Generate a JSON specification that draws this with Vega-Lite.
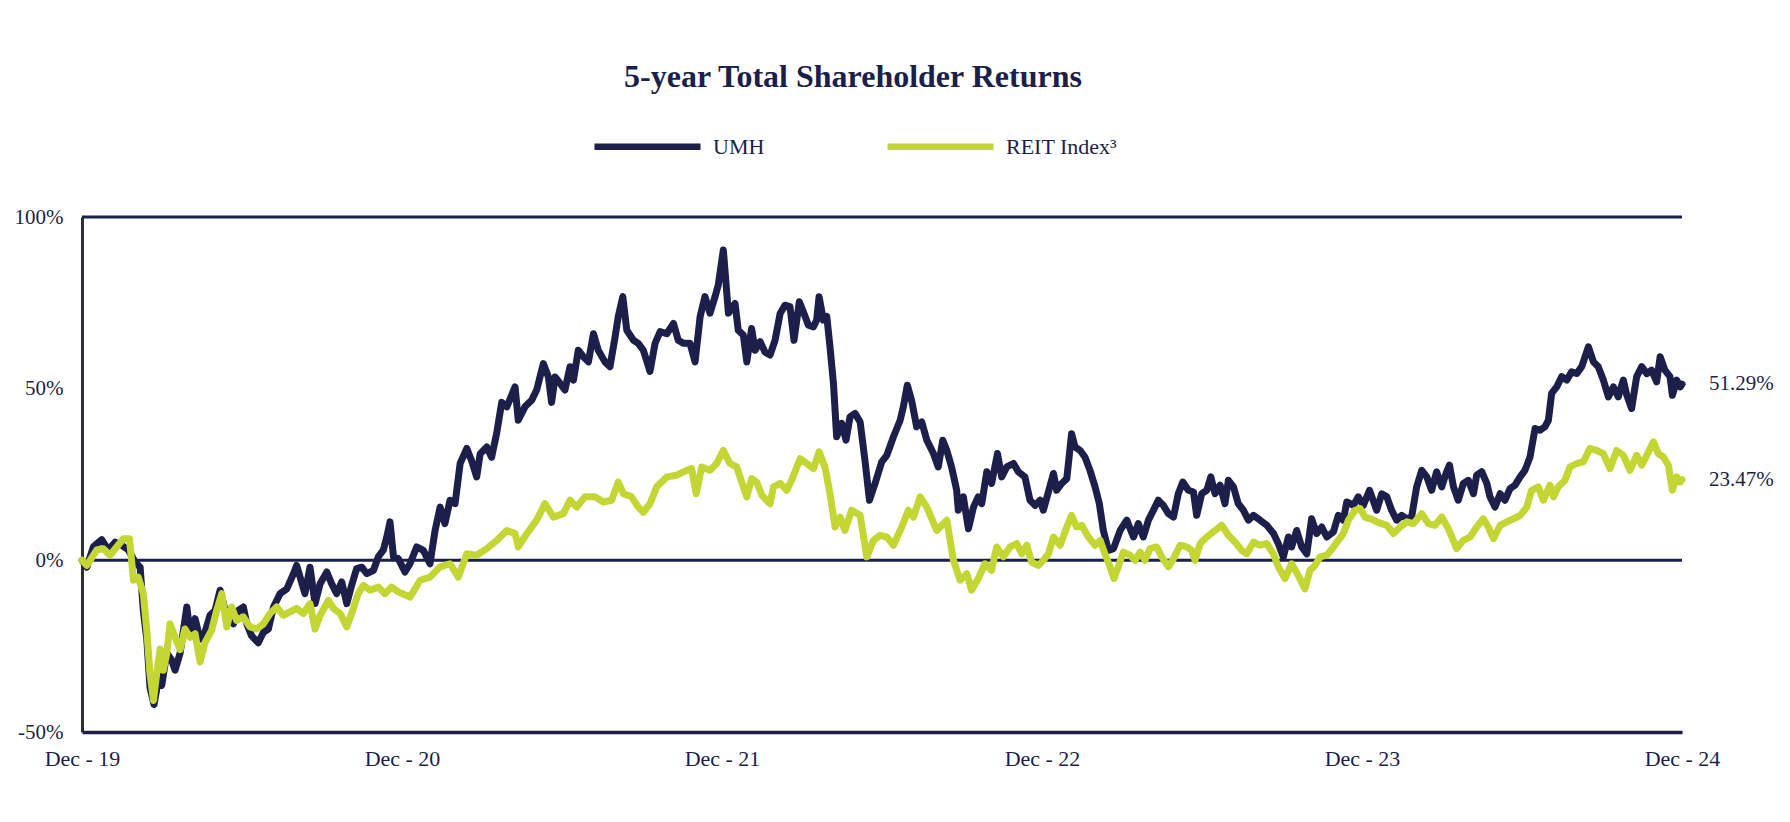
{
  "$schema": "https://vega.github.io/schema/vega-lite/v6.json",
  "width": 1600,
  "height": 515,
  "autosize": "none",
  "padding": {"left": 82, "top": 217, "right": 108, "bottom": 90},
  "background": "white",
  "title": {
    "text": "5-year Total Shareholder Returns",
    "font": "Liberation Serif",
    "fontSize": 32,
    "fontWeight": "bold",
    "color": "#1c1f4a",
    "anchor": "middle",
    "dx": -29,
    "offset": -4
  },
  "datasets": {
    "umh": [
      {"m":0,"v":0},{"m":0.18,"v":-2},{"m":0.43,"v":4},{"m":0.74,"v":6},{"m":0.99,"v":3},{"m":1.24,"v":5.3},{"m":1.49,"v":4.4},{"m":1.74,"v":3},{"m":1.99,"v":-0.5},{"m":2.18,"v":-2},
      {"m":2.3,"v":-14.6},{"m":2.43,"v":-23},{"m":2.55,"v":-37},{"m":2.7,"v":-42},{"m":2.86,"v":-35},{"m":2.99,"v":-36.4},{"m":3.18,"v":-27},{"m":3.36,"v":-29},{"m":3.49,"v":-32},{"m":3.68,"v":-27},
      {"m":3.93,"v":-13.6},{"m":4.05,"v":-21},{"m":4.24,"v":-17},{"m":4.43,"v":-23},{"m":4.61,"v":-21},{"m":4.8,"v":-16},{"m":4.99,"v":-14.6},{"m":5.18,"v":-8.7},{"m":5.43,"v":-16.5},{"m":5.68,"v":-18.5},
      {"m":5.86,"v":-14.6},{"m":6.05,"v":-13.6},{"m":6.18,"v":-18.5},{"m":6.36,"v":-22},{"m":6.61,"v":-24},{"m":6.8,"v":-21},{"m":6.99,"v":-20},{"m":7.18,"v":-13.6},{"m":7.43,"v":-9.7},{"m":7.68,"v":-8.3},
      {"m":7.93,"v":-3.9},{"m":8.05,"v":-1.5},{"m":8.18,"v":-4.9},{"m":8.36,"v":-9.7},{"m":8.55,"v":-2},{"m":8.74,"v":-12.6},{"m":8.93,"v":-6.8},{"m":9.18,"v":-3.4},{"m":9.36,"v":-6.8},{"m":9.55,"v":-9.7},
      {"m":9.74,"v":-6.3},{"m":9.93,"v":-12.6},{"m":10.11,"v":-7.3},{"m":10.3,"v":-2.4},{"m":10.49,"v":-2},{"m":10.68,"v":-3.9},{"m":10.93,"v":-2.9},{"m":11.11,"v":1},{"m":11.3,"v":3},{"m":11.43,"v":6.8},
      {"m":11.55,"v":11.2},{"m":11.68,"v":1},{"m":11.86,"v":0.5},{"m":12.11,"v":-3.4},{"m":12.3,"v":-1},{"m":12.55,"v":3.9},{"m":12.8,"v":2.9},{"m":13.05,"v":-1},{"m":13.24,"v":8.7},{"m":13.43,"v":15.5},
      {"m":13.61,"v":10.7},{"m":13.8,"v":17.5},{"m":13.99,"v":16.5},{"m":14.18,"v":28.2},{"m":14.43,"v":32.6},{"m":14.61,"v":29},{"m":14.8,"v":24.3},{"m":14.93,"v":31},{"m":15.18,"v":33},{"m":15.36,"v":30},
      {"m":15.55,"v":37},{"m":15.74,"v":46},{"m":15.93,"v":44.7},{"m":16.24,"v":50.5},{"m":16.36,"v":40.8},{"m":16.61,"v":44.7},{"m":16.86,"v":46.6},{"m":17.05,"v":49.6},{"m":17.3,"v":57.3},{"m":17.49,"v":53.4},
      {"m":17.61,"v":46},{"m":17.74,"v":53.4},{"m":17.93,"v":51.5},{"m":18.11,"v":49.6},{"m":18.3,"v":56.4},{"m":18.43,"v":52.5},{"m":18.61,"v":61.2},{"m":18.8,"v":59.3},{"m":18.99,"v":57.8},{"m":19.18,"v":66},
      {"m":19.36,"v":61.2},{"m":19.61,"v":57.8},{"m":19.8,"v":56.4},{"m":19.99,"v":65},{"m":20.11,"v":71},{"m":20.28,"v":76.8},{"m":20.43,"v":67},{"m":20.68,"v":64.1},{"m":20.86,"v":63.2},{"m":21.05,"v":61.2},
      {"m":21.3,"v":55},{"m":21.49,"v":63.2},{"m":21.68,"v":66.6},{"m":21.93,"v":66},{"m":22.18,"v":69},{"m":22.36,"v":64.1},{"m":22.55,"v":63.2},{"m":22.8,"v":63.2},{"m":22.99,"v":57.8},{"m":23.18,"v":71},
      {"m":23.36,"v":76.8},{"m":23.55,"v":72},{"m":23.74,"v":76.8},{"m":23.86,"v":80.2},{"m":24.05,"v":90.4},{"m":24.24,"v":72},{"m":24.49,"v":74.8},{"m":24.61,"v":67},{"m":24.8,"v":65.6},{"m":24.93,"v":57.8},
      {"m":25.11,"v":67.5},{"m":25.24,"v":61.2},{"m":25.43,"v":63.7},{"m":25.61,"v":60.7},{"m":25.8,"v":59.8},{"m":25.99,"v":64.1},{"m":26.18,"v":71.9},{"m":26.36,"v":74.3},{"m":26.55,"v":73.9},{"m":26.7,"v":64.1},
      {"m":26.9,"v":75.3},{"m":27.05,"v":72.4},{"m":27.24,"v":68.5},{"m":27.43,"v":68},{"m":27.55,"v":70},{"m":27.64,"v":76.8},{"m":27.8,"v":70},{"m":27.93,"v":71},{"m":28.05,"v":62.2},{"m":28.18,"v":51.5},
      {"m":28.3,"v":36},{"m":28.49,"v":39.9},{"m":28.65,"v":35},{"m":28.8,"v":41.8},{"m":28.99,"v":42.8},{"m":29.18,"v":40.3},{"m":29.36,"v":29.2},{"m":29.53,"v":17.5},{"m":29.74,"v":22.4},{"m":29.99,"v":28.7},
      {"m":30.18,"v":30.6},{"m":30.43,"v":36},{"m":30.68,"v":40.8},{"m":30.8,"v":44.7},{"m":30.95,"v":51},{"m":31.11,"v":46.6},{"m":31.3,"v":38.9},{"m":31.49,"v":40.3},{"m":31.68,"v":35},{"m":31.93,"v":31.1},
      {"m":32.11,"v":27.2},{"m":32.28,"v":35},{"m":32.43,"v":32},{"m":32.61,"v":27.2},{"m":32.8,"v":20.4},{"m":32.86,"v":14.6},{"m":33.05,"v":18.5},{"m":33.24,"v":9.2},{"m":33.43,"v":15.5},{"m":33.61,"v":18.5},
      {"m":33.74,"v":16.5},{"m":33.93,"v":25.8},{"m":34.11,"v":22.4},{"m":34.33,"v":31.1},{"m":34.49,"v":24.3},{"m":34.68,"v":27.2},{"m":34.93,"v":28.2},{"m":35.11,"v":25.8},{"m":35.36,"v":24.3},{"m":35.55,"v":17.5},
      {"m":35.74,"v":16},{"m":35.93,"v":17.5},{"m":36.05,"v":14.6},{"m":36.24,"v":19.9},{"m":36.43,"v":25.3},{"m":36.55,"v":20.4},{"m":36.74,"v":22.4},{"m":36.93,"v":23.8},{"m":37.11,"v":36.9},{"m":37.24,"v":33},
      {"m":37.43,"v":32},{"m":37.61,"v":30.1},{"m":37.8,"v":26.2},{"m":37.99,"v":21.4},{"m":38.15,"v":16.5},{"m":38.3,"v":8.7},{"m":38.49,"v":2.9},{"m":38.68,"v":3.4},{"m":38.93,"v":8.7},{"m":39.18,"v":11.7},
      {"m":39.43,"v":6.8},{"m":39.61,"v":10.7},{"m":39.8,"v":6.8},{"m":39.99,"v":11.7},{"m":40.18,"v":14.6},{"m":40.36,"v":17.5},{"m":40.55,"v":16},{"m":40.74,"v":13.6},{"m":40.93,"v":12.6},{"m":41.11,"v":19.4},
      {"m":41.28,"v":22.8},{"m":41.49,"v":20.4},{"m":41.68,"v":19.9},{"m":41.8,"v":13.1},{"m":41.99,"v":19.4},{"m":42.18,"v":20.4},{"m":42.33,"v":24.3},{"m":42.49,"v":19.4},{"m":42.68,"v":21.9},{"m":42.86,"v":16.5},
      {"m":42.99,"v":23.3},{"m":43.18,"v":21.4},{"m":43.36,"v":16.5},{"m":43.55,"v":14.6},{"m":43.74,"v":11.7},{"m":43.93,"v":13.1},{"m":44.18,"v":11.7},{"m":44.43,"v":10.2},{"m":44.68,"v":7.8},{"m":44.86,"v":4.9},
      {"m":45.05,"v":1},{"m":45.24,"v":6.8},{"m":45.36,"v":3.9},{"m":45.55,"v":8.7},{"m":45.74,"v":3.9},{"m":45.93,"v":1.9},{"m":46.11,"v":12.1},{"m":46.3,"v":7.8},{"m":46.49,"v":9.7},{"m":46.68,"v":6.8},
      {"m":46.93,"v":8.3},{"m":47.11,"v":13.1},{"m":47.3,"v":11.7},{"m":47.43,"v":17},{"m":47.68,"v":16},{"m":47.86,"v":18.5},{"m":48.05,"v":16},{"m":48.28,"v":20.4},{"m":48.55,"v":14.6},{"m":48.74,"v":19.4},
      {"m":48.93,"v":18.5},{"m":49.11,"v":14.6},{"m":49.3,"v":11.7},{"m":49.49,"v":13.1},{"m":49.68,"v":12.1},{"m":49.86,"v":12.6},{"m":50.05,"v":21.4},{"m":50.24,"v":26.2},{"m":50.43,"v":24.3},{"m":50.61,"v":20.4},
      {"m":50.8,"v":25.8},{"m":50.99,"v":21.4},{"m":51.15,"v":25.3},{"m":51.28,"v":27.7},{"m":51.43,"v":21.4},{"m":51.61,"v":17.5},{"m":51.8,"v":22.4},{"m":51.99,"v":23.3},{"m":52.18,"v":19.4},{"m":52.3,"v":24.8},
      {"m":52.49,"v":25.8},{"m":52.68,"v":22.4},{"m":52.8,"v":18.5},{"m":52.99,"v":15.5},{"m":53.18,"v":19.4},{"m":53.36,"v":17.5},{"m":53.55,"v":20.9},{"m":53.74,"v":21.9},{"m":53.93,"v":24.3},{"m":54.11,"v":26.2},
      {"m":54.3,"v":30.1},{"m":54.49,"v":38.4},{"m":54.68,"v":37.9},{"m":54.86,"v":38.9},{"m":54.99,"v":40.8},{"m":55.11,"v":48.6},{"m":55.3,"v":50.5},{"m":55.49,"v":53.5},{"m":55.68,"v":52.5},{"m":55.86,"v":54.9},
      {"m":56.05,"v":54.4},{"m":56.24,"v":56.4},{"m":56.49,"v":62.2},{"m":56.68,"v":57.8},{"m":56.86,"v":56.4},{"m":57.05,"v":52.5},{"m":57.24,"v":47.6},{"m":57.43,"v":50.5},{"m":57.61,"v":47.6},{"m":57.8,"v":52.5},
      {"m":57.93,"v":48.1},{"m":58.11,"v":44.2},{"m":58.3,"v":53.5},{"m":58.49,"v":56.4},{"m":58.68,"v":54.4},{"m":58.86,"v":55.4},{"m":59.05,"v":52},{"m":59.18,"v":59.3},{"m":59.36,"v":55.4},{"m":59.55,"v":53.5},
      {"m":59.64,"v":48.1},{"m":59.8,"v":52.5},{"m":59.93,"v":50.5},{"m":60,"v":51.29}
    ],
    "reit": [
      {"m":0,"v":0},{"m":0.18,"v":-1.5},{"m":0.55,"v":3},{"m":0.8,"v":3.4},{"m":1.05,"v":1.5},{"m":1.3,"v":3.9},{"m":1.55,"v":6.3},{"m":1.78,"v":6.3},{"m":1.93,"v":-5.8},{"m":2.11,"v":-4.9},
      {"m":2.3,"v":-9.7},{"m":2.43,"v":-20.4},{"m":2.55,"v":-33},{"m":2.68,"v":-40.8},{"m":2.8,"v":-33},{"m":2.93,"v":-25.8},{"m":3.05,"v":-32},{"m":3.18,"v":-27},{"m":3.3,"v":-18.5},{"m":3.49,"v":-22.4},
      {"m":3.68,"v":-26},{"m":3.86,"v":-20},{"m":4.05,"v":-22.4},{"m":4.24,"v":-21.4},{"m":4.43,"v":-29.6},{"m":4.61,"v":-24},{"m":4.86,"v":-20.4},{"m":5.05,"v":-14.6},{"m":5.24,"v":-9.7},{"m":5.43,"v":-19.4},
      {"m":5.61,"v":-13.6},{"m":5.8,"v":-17.5},{"m":6.05,"v":-16.5},{"m":6.3,"v":-19.4},{"m":6.55,"v":-20},{"m":6.8,"v":-18.5},{"m":7.05,"v":-15.5},{"m":7.3,"v":-13.6},{"m":7.55,"v":-16},{"m":7.8,"v":-15},
      {"m":8.05,"v":-14},{"m":8.3,"v":-15.5},{"m":8.55,"v":-12.6},{"m":8.74,"v":-20},{"m":8.93,"v":-16},{"m":9.24,"v":-11.7},{"m":9.43,"v":-14},{"m":9.68,"v":-15.5},{"m":9.93,"v":-19.4},{"m":10.11,"v":-15.5},
      {"m":10.36,"v":-9.7},{"m":10.55,"v":-7.3},{"m":10.8,"v":-8.7},{"m":11.11,"v":-7.8},{"m":11.36,"v":-9.7},{"m":11.61,"v":-7.8},{"m":11.86,"v":-9.2},{"m":12.3,"v":-10.7},{"m":12.68,"v":-5.8},{"m":13.05,"v":-4.9},
      {"m":13.43,"v":-1.9},{"m":13.8,"v":-1},{"m":14.11,"v":-4.9},{"m":14.43,"v":1.9},{"m":14.8,"v":1.5},{"m":15.18,"v":3.4},{"m":15.55,"v":5.8},{"m":15.93,"v":8.7},{"m":16.24,"v":7.8},{"m":16.36,"v":3.9},
      {"m":16.68,"v":7.8},{"m":17.05,"v":11.7},{"m":17.36,"v":16.5},{"m":17.68,"v":12.6},{"m":18.05,"v":13.6},{"m":18.3,"v":17.5},{"m":18.55,"v":15.5},{"m":18.86,"v":18.5},{"m":19.24,"v":18.5},{"m":19.55,"v":17},
      {"m":19.86,"v":17.5},{"m":20.11,"v":22.8},{"m":20.3,"v":19.4},{"m":20.61,"v":18.5},{"m":20.86,"v":15.5},{"m":21.05,"v":14},{"m":21.3,"v":16.5},{"m":21.55,"v":21.4},{"m":21.93,"v":24.3},{"m":22.3,"v":24.8},
      {"m":22.68,"v":26.2},{"m":22.86,"v":26.7},{"m":23.03,"v":19.4},{"m":23.24,"v":27.2},{"m":23.55,"v":26.2},{"m":23.8,"v":28.2},{"m":24.05,"v":32},{"m":24.3,"v":28.2},{"m":24.55,"v":27.2},{"m":24.74,"v":22.8},
      {"m":24.93,"v":18.5},{"m":25.11,"v":23.8},{"m":25.3,"v":22.8},{"m":25.49,"v":19},{"m":25.8,"v":16.5},{"m":25.93,"v":21.4},{"m":26.18,"v":22.4},{"m":26.43,"v":20.4},{"m":26.61,"v":23.3},{"m":26.93,"v":29.6},
      {"m":27.18,"v":28.2},{"m":27.43,"v":26.7},{"m":27.64,"v":31.6},{"m":27.86,"v":27.2},{"m":28.05,"v":19.4},{"m":28.24,"v":9.7},{"m":28.43,"v":12.6},{"m":28.61,"v":8.7},{"m":28.86,"v":14.6},{"m":29.18,"v":13.1},
      {"m":29.43,"v":1},{"m":29.68,"v":5.8},{"m":29.93,"v":7.3},{"m":30.18,"v":6.8},{"m":30.43,"v":4.4},{"m":30.74,"v":9.7},{"m":30.99,"v":14.6},{"m":31.18,"v":12.6},{"m":31.43,"v":18.5},{"m":31.68,"v":15.5},
      {"m":32.05,"v":8.7},{"m":32.43,"v":11.7},{"m":32.68,"v":0},{"m":32.93,"v":-5.8},{"m":33.18,"v":-3.9},{"m":33.36,"v":-8.7},{"m":33.61,"v":-5.3},{"m":33.86,"v":-1},{"m":34.11,"v":-2.9},{"m":34.3,"v":3.9},
      {"m":34.55,"v":1},{"m":34.8,"v":3.9},{"m":35.05,"v":4.9},{"m":35.24,"v":1.9},{"m":35.43,"v":4.4},{"m":35.61,"v":-0.5},{"m":35.86,"v":-1.5},{"m":36.05,"v":0},{"m":36.24,"v":1.9},{"m":36.43,"v":6.8},
      {"m":36.68,"v":4.4},{"m":36.93,"v":9.7},{"m":37.11,"v":13.1},{"m":37.3,"v":9.7},{"m":37.49,"v":10.2},{"m":37.74,"v":6.8},{"m":37.99,"v":4.4},{"m":38.18,"v":5.8},{"m":38.36,"v":1.9},{"m":38.55,"v":-1.9},
      {"m":38.7,"v":-5.3},{"m":38.86,"v":-1.9},{"m":39.05,"v":2.4},{"m":39.3,"v":1.5},{"m":39.49,"v":0},{"m":39.68,"v":2.4},{"m":39.86,"v":0},{"m":40.05,"v":3.4},{"m":40.3,"v":3.9},{"m":40.49,"v":1},
      {"m":40.74,"v":-1.9},{"m":40.93,"v":0.5},{"m":41.18,"v":4.4},{"m":41.43,"v":3.9},{"m":41.61,"v":2.9},{"m":41.74,"v":0},{"m":41.93,"v":4.9},{"m":42.18,"v":6.8},{"m":42.43,"v":8.3},{"m":42.74,"v":10.2},
      {"m":42.99,"v":7.3},{"m":43.24,"v":5.3},{"m":43.49,"v":2.9},{"m":43.68,"v":1.9},{"m":43.93,"v":5.3},{"m":44.18,"v":4.4},{"m":44.43,"v":4.9},{"m":44.68,"v":1.9},{"m":44.86,"v":-1.9},{"m":45.11,"v":-5.3},
      {"m":45.36,"v":-1},{"m":45.61,"v":-4.4},{"m":45.86,"v":-8.3},{"m":46.05,"v":-2.9},{"m":46.24,"v":-1.5},{"m":46.43,"v":1},{"m":46.68,"v":1.5},{"m":46.93,"v":3.9},{"m":47.11,"v":5.8},{"m":47.3,"v":7.8},
      {"m":47.49,"v":11.7},{"m":47.74,"v":14.6},{"m":47.93,"v":15.1},{"m":48.11,"v":12.6},{"m":48.36,"v":12},{"m":48.55,"v":11.2},{"m":48.93,"v":10.2},{"m":49.18,"v":7.8},{"m":49.43,"v":9.7},{"m":49.68,"v":11.2},
      {"m":49.93,"v":10.7},{"m":50.24,"v":13.6},{"m":50.49,"v":10.7},{"m":50.74,"v":10.2},{"m":50.99,"v":12.6},{"m":51.24,"v":9.2},{"m":51.55,"v":3.4},{"m":51.8,"v":5.8},{"m":52.05,"v":6.8},{"m":52.3,"v":9.7},
      {"m":52.55,"v":12.1},{"m":52.74,"v":9.7},{"m":52.93,"v":6.3},{"m":53.18,"v":10.2},{"m":53.43,"v":11.2},{"m":53.68,"v":12.1},{"m":53.93,"v":13.1},{"m":54.18,"v":15.5},{"m":54.36,"v":20.4},{"m":54.61,"v":21.4},
      {"m":54.8,"v":17.5},{"m":55.05,"v":21.9},{"m":55.18,"v":18.5},{"m":55.36,"v":21.4},{"m":55.61,"v":23.3},{"m":55.8,"v":27.2},{"m":56.05,"v":28.2},{"m":56.3,"v":28.7},{"m":56.55,"v":32.6},{"m":56.8,"v":32},
      {"m":57.05,"v":31.1},{"m":57.3,"v":26.7},{"m":57.55,"v":32},{"m":57.8,"v":30.6},{"m":58.05,"v":26.2},{"m":58.3,"v":30.6},{"m":58.49,"v":27.7},{"m":58.68,"v":30.6},{"m":58.93,"v":34.5},{"m":59.11,"v":31.1},
      {"m":59.3,"v":30.1},{"m":59.49,"v":27.7},{"m":59.64,"v":20.4},{"m":59.8,"v":24.3},{"m":59.93,"v":22.8},{"m":60,"v":23.47}
    ],
    "ends": [
      {"s":"UMH","m":60,"v":51.29,"label":"51.29%"},
      {"s":"REIT Index³","m":60,"v":23.47,"label":"23.47%"}
    ],
    "refs": [{"v":100},{"v":0}]
  },
  "encoding": {
    "x": {
      "field": "m",
      "type": "quantitative",
      "scale": {"domain": [0, 60], "nice": false, "zero": false},
      "axis": {
        "title": null,
        "values": [0, 12, 24, 36, 48, 60],
        "labelExpr": "'Dec - ' + (19 + datum.value / 12)",
        "grid": false,
        "ticks": false,
        "tickSize": 0,
        "labelPadding": 16,
        "labelFlush": false,
        "labelOverlap": false,
        "labelFont": "Liberation Serif",
        "labelFontSize": 22,
        "labelColor": "#1c1f4a",
        "domainColor": "#1c1f4a",
        "domainWidth": 3.5
      }
    },
    "y": {
      "field": "v",
      "type": "quantitative",
      "scale": {"domain": [-50, 100], "nice": false, "zero": false},
      "axis": {
        "title": null,
        "values": [-50, 0, 50, 100],
        "labelExpr": "datum.value + '%'",
        "grid": false,
        "ticks": false,
        "tickSize": 0,
        "labelPadding": 19,
        "labelFont": "Liberation Serif",
        "labelFontSize": 21,
        "labelColor": "#1c1f4a",
        "domainColor": "#2e2e36",
        "domainWidth": 3
      }
    }
  },
  "layer": [
    {
      "data": {"name": "refs"},
      "mark": {"type": "rule", "color": "#1c1f4a", "strokeWidth": 3},
      "encoding": {"x": null}
    },
    {
      "data": {"name": "umh"},
      "mark": {"type": "line", "strokeWidth": 7, "strokeJoin": "round", "strokeCap": "round"},
      "encoding": {
        "color": {
          "datum": "UMH",
          "type": "nominal",
          "scale": {"domain": ["UMH", "REIT Index³"], "range": ["#1c1f4a", "#c4d633"]},
          "legend": {
            "title": null,
            "orient": "none",
            "direction": "horizontal",
            "legendX": 509,
            "legendY": -127,
            "symbolType": "stroke",
            "symbolSize": 11236,
            "symbolStrokeWidth": 6.5,
            "labelOffset": 9,
            "columnPadding": 109,
            "labelFont": "Liberation Serif",
            "labelFontSize": 22,
            "labelColor": "#1c1f4a"
          }
        }
      }
    },
    {
      "data": {"name": "reit"},
      "mark": {"type": "line", "strokeWidth": 7, "strokeJoin": "round", "strokeCap": "round"},
      "encoding": {
        "color": {"datum": "REIT Index³", "type": "nominal"}
      }
    },
    {
      "data": {"name": "ends"},
      "mark": {"type": "text", "align": "left", "baseline": "middle", "dx": 27, "font": "Liberation Serif", "fontSize": 21, "color": "#1c1f4a"},
      "encoding": {"text": {"field": "label"}}
    }
  ],
  "config": {
    "view": {"stroke": null},
    "legend": {"padding": 0}
  }
}
